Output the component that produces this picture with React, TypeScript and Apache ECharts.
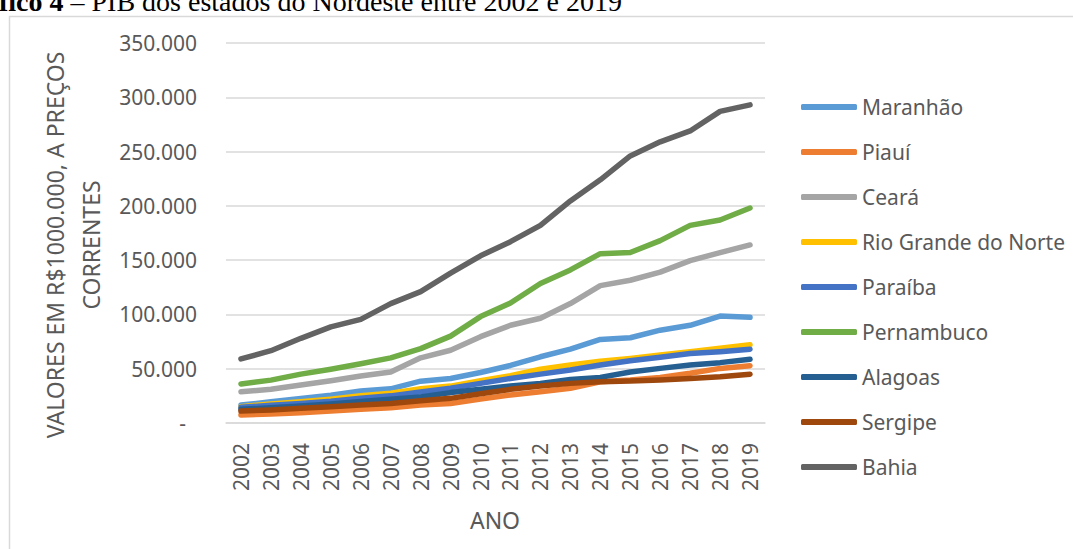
import React, { useEffect, useRef } from "react";
import * as echarts from "echarts";

const years = ["2002","2003","2004","2005","2006","2007","2008","2009","2010","2011","2012","2013","2014","2015","2016","2017","2018","2019"];

const seriesNames = ["Maranhão","Piauí","Ceará","Rio Grande do Norte","Paraíba","Pernambuco","Alagoas","Sergipe","Bahia"];
const seriesColors = ["#5B9BD5","#ED7D31","#A5A5A5","#FFC000","#4472C4","#70AD47","#255E91","#9E480E","#636363"];

// values in R$ 1.000.000
const maranhao = [16500,19500,22500,25500,29500,31500,38500,41000,46500,53000,61000,68000,77000,78500,85500,90000,98500,97300];
const piaui = [7400,8300,9500,11000,12600,14000,16600,18000,22000,25800,28800,32000,38000,39600,42000,45800,50300,52800];
const ceara = [28800,31000,35000,39000,43300,47000,60000,67000,79500,90000,96500,110000,126500,131500,139000,149500,157000,164000];
const rioGrandeDoNorte = [15000,17500,19500,22000,25000,27500,31500,34000,39000,43500,49500,53500,57000,59500,62600,65700,68800,72000];
const paraiba = [14400,16300,18000,20000,22700,25000,28500,32000,36500,41000,45000,48800,53400,57400,60500,64000,65700,68000];
const pernambuco = [36000,39500,45000,49500,54500,60000,68500,80000,98000,110500,128500,141000,156000,157000,168000,182000,187000,198000];
const alagoas = [12600,14000,15700,17500,19700,21800,24000,28000,31000,34000,36500,40000,42000,47000,50300,53400,55600,58700];
const sergipe = [11000,12000,13500,15000,16600,18000,20500,22700,27000,31000,34000,36500,38000,38700,39600,41000,42600,45000];
const bahia = [59000,66600,78000,88500,95500,110000,121000,138000,154000,167000,182000,204500,224000,246000,259000,269000,287000,293000];

const seriesValues = [maranhao, piaui, ceara, rioGrandeDoNorte, paraiba, pernambuco, alagoas, sergipe, bahia];

const FONT = "'Noto Sans', sans-serif";
const GREY = "#595959";

export default function App() {
  const ref = useRef<HTMLDivElement>(null);

  useEffect(() => {
    if (!ref.current) return;
    const chart = echarts.init(ref.current, undefined, { renderer: "svg" });
    const option: any = {
      animation: false,
      backgroundColor: "#ffffff",
      grid: { left: 226, right: 308, top: 43, bottom: 126, containLabel: false },
      xAxis: {
        type: "category",
        data: years,
        boundaryGap: true,
        axisLine: { show: true, lineStyle: { color: "#d9d9d9", width: 1.5 } },
        axisTick: { show: false },
        axisLabel: { rotate: 90, interval: 0, fontSize: 21, color: GREY, fontFamily: FONT, margin: 20 },
      },
      yAxis: {
        type: "value",
        min: 0,
        max: 350000,
        interval: 50000,
        axisLine: { show: false },
        axisTick: { show: false },
        splitLine: { lineStyle: { color: "#d9d9d9", width: 1.5 } },
        axisLabel: {
          fontSize: 21,
          color: GREY,
          fontFamily: FONT,
          margin: 29,
          formatter: (v: number) => (v === 0 ? "{d|-}" : `${Math.round(v / 1000)}.000`),
          rich: { d: { fontSize: 21, color: GREY, fontFamily: FONT, padding: [0, 11, 0, 0] } },
        },
      },
      legend: {
        orient: "vertical",
        left: 801,
        top: 95,
        padding: 0,
        itemWidth: 56,
        itemHeight: 6,
        itemGap: 21,
        icon: "roundRect",
        textStyle: { fontSize: 21, color: GREY, fontFamily: FONT, lineHeight: 24 },
        data: seriesNames,
      },
      graphic: [
        {
          type: "rect",
          silent: true,
          shape: { x: 9.5, y: 16.5, width: 1200, height: 700 },
          style: { fill: "none", stroke: "#d9d9d9", lineWidth: 1.5 },
          z: -10,
        },
        {
          type: "text",
          x: -1,
          y: 15,
          style: {
            text: "{b|fico 4} – PIB dos estados do Nordeste entre 2002 e 2019",
            font: "28px 'Liberation Serif', serif",
            fill: "#000000",
            verticalAlign: "bottom",
            textVerticalAlign: "bottom",
            rich: { b: { fontWeight: "bold", fontSize: 28, fontFamily: "'Liberation Serif', serif", fill: "#000000" } },
          },
        },
        {
          type: "text",
          x: 73,
          y: 245,
          rotation: Math.PI / 2,
          style: {
            text: "VALORES EM R$1000.000, A PREÇOS\nCORRENTES",
            font: `23px ${FONT}`,
            fill: GREY,
            align: "center",
            textAlign: "center",
            verticalAlign: "middle",
            textVerticalAlign: "middle",
            lineHeight: 36,
          },
        },
        {
          type: "text",
          x: 495,
          y: 520,
          style: {
            text: "ANO",
            font: `23px ${FONT}`,
            fill: GREY,
            align: "center",
            textAlign: "center",
            verticalAlign: "middle",
            textVerticalAlign: "middle",
          },
        },
      ],
      series: seriesNames.map((name, i) => ({
        name,
        type: "line",
        data: seriesValues[i],
        color: seriesColors[i],
        symbol: "none",
        showSymbol: false,
        lineStyle: { width: 5.5, color: seriesColors[i], cap: "round", join: "round" },
        emphasis: { disabled: true },
      })),
    };
    chart.setOption(option);
    return () => chart.dispose();
  }, []);

  return (
    <div
      ref={ref}
      style={{ position: "fixed", left: 0, top: 0, width: 1073, height: 549, background: "#fff" }}
    />
  );
}
